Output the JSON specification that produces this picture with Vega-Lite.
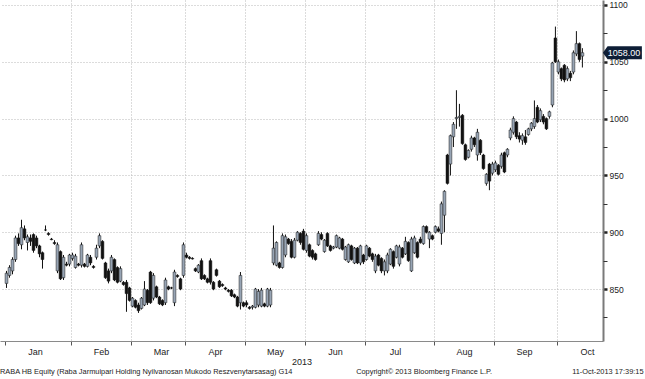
{
"$schema": "https://vega.github.io/schema/vega-lite/v6.json",
"width": 603, "height": 341,
"autosize": {"type": "none"},
"padding": {"left": 0, "top": 0, "right": 42, "bottom": 38},
"background": "white",
"config": {"view": {"stroke": null}, "font": "Liberation Sans"},
"title": {"text": "RABA HB Equity (Raba Jarmuipari Holding Nyilvanosan Mukodo Reszvenytarsasag) G14\u00a0\u00a0\u00a0\u00a0\u00a0\u00a0\u00a0\u00a0\u00a0\u00a0\u00a0\u00a0\u00a0\u00a0\u00a0\u00a0\u00a0\u00a0\u00a0\u00a0\u00a0\u00a0\u00a0\u00a0\u00a0\u00a0\u00a0\u00a0\u00a0\u00a0\u00a0Copyright© 2013 Bloomberg Finance L.P.\u00a0\u00a0\u00a0\u00a0\u00a0\u00a0\u00a0\u00a0\u00a0\u00a0\u00a0\u00a0\u00a0\u00a0\u00a0\u00a0\u00a0\u00a0\u00a0\u00a0\u00a0\u00a0\u00a0\u00a0\u00a0\u00a0\u00a0\u00a0\u00a0\u00a0\u00a0\u00a0\u00a0\u00a0\u00a0\u00a0\u00a0\u00a0\u00a011-Oct-2013 17:39:15", "orient": "bottom", "anchor": "start", "frame": "group", "font": "Liberation Sans", "fontSize": 7.4, "fontWeight": "normal", "color": "#222222", "offset": 2},
"resolve": {"scale": {"y": "shared"}, "axis": {"y": "independent"}},
"data": {"values": [
{"d":0,"o":855,"h":866,"l":851,"c":864},{"d":1,"o":862,"h":871,"l":860,"c":869},{"d":2,"o":866,"h":878,"l":863,"c":876},{"d":3,"o":876,"h":897,"l":874,"c":895},{"d":4,"o":895,"h":899,"l":888,"c":890},{"d":5,"o":889,"h":911,"l":885,"c":904},{"d":6,"o":903,"h":906,"l":893,"c":895},{"d":7,"o":891,"h":898,"l":884,"c":896},{"d":8,"o":895,"h":898,"l":888,"c":892},{"d":9,"o":898,"h":899,"l":882,"c":884},{"d":10,"o":895,"h":897,"l":886,"c":888},{"d":11,"o":888,"h":889,"l":878,"c":881},{"d":12,"o":882,"h":883,"l":868,"c":876},{"d":13,"o":902,"h":906,"l":901,"c":902},{"d":14,"o":899,"h":900,"l":897,"c":898},{"d":15,"o":894,"h":895,"l":893,"c":893.5},{"d":16,"o":891,"h":893,"l":889,"c":890},{"d":17,"o":866,"h":891,"l":864,"c":889},{"d":18,"o":883,"h":884,"l":858,"c":859},{"d":19,"o":860,"h":880,"l":858,"c":878},{"d":20,"o":872,"h":874,"l":870,"c":871},{"d":21,"o":872,"h":881,"l":870,"c":880},
{"d":22,"o":877,"h":882,"l":875,"c":880},{"d":23,"o":869,"h":881,"l":868,"c":879},{"d":24,"o":872,"h":873,"l":870,"c":871},{"d":25,"o":871,"h":891,"l":869,"c":889},{"d":26,"o":872,"h":873,"l":869,"c":870},{"d":27,"o":870,"h":881,"l":869,"c":880},{"d":28,"o":878,"h":880,"l":871,"c":873},{"d":29,"o":870,"h":871,"l":868,"c":869},{"d":30,"o":878,"h":889,"l":876,"c":886},{"d":31,"o":888,"h":899,"l":886,"c":897},{"d":32,"o":892,"h":893,"l":876,"c":877},{"d":33,"o":873,"h":874,"l":859,"c":860},{"d":34,"o":866,"h":868,"l":855,"c":857},{"d":35,"o":866,"h":880,"l":864,"c":878},{"d":36,"o":876,"h":877,"l":857,"c":858},{"d":37,"o":869,"h":870,"l":855,"c":856},{"d":38,"o":857,"h":870,"l":856,"c":868},{"d":39,"o":856,"h":857,"l":853,"c":854},{"d":40,"o":856,"h":858,"l":830,"c":846},{"d":41,"o":851,"h":852,"l":839,"c":840},
{"d":42,"o":835,"h":843,"l":834,"c":842},{"d":43,"o":840,"h":841,"l":833,"c":834},{"d":44,"o":836,"h":838,"l":829,"c":831},{"d":45,"o":833,"h":843,"l":832,"c":842},{"d":46,"o":836,"h":857,"l":835,"c":850},{"d":47,"o":849,"h":850,"l":836,"c":838},{"d":48,"o":865,"h":866,"l":837,"c":838},{"d":49,"o":842,"h":864,"l":840,"c":862},{"d":50,"o":852,"h":853,"l":842,"c":843},{"d":51,"o":843,"h":844,"l":836,"c":837},{"d":52,"o":840,"h":841,"l":835,"c":836},{"d":53,"o":838,"h":860,"l":836,"c":858},{"d":54,"o":852,"h":853,"l":849,"c":850},{"d":55,"o":851,"h":852,"l":850,"c":851},{"d":56,"o":838,"h":867,"l":835,"c":865},{"d":57,"o":862,"h":863,"l":860,"c":861},{"d":58,"o":859,"h":860,"l":849,"c":850},{"d":59,"o":862,"h":891,"l":860,"c":889},
{"d":60,"o":880,"h":882,"l":877,"c":878},{"d":61,"o":878,"h":879,"l":876,"c":877},{"d":62,"o":877,"h":878,"l":876,"c":876.5},{"d":63,"o":868,"h":869,"l":865,"c":866},{"d":64,"o":865,"h":872,"l":864,"c":871},{"d":65,"o":875,"h":877,"l":858,"c":859},{"d":66,"o":862,"h":863,"l":858,"c":859},{"d":67,"o":859,"h":860,"l":855,"c":856},{"d":68,"o":875,"h":877,"l":854,"c":856},{"d":69,"o":856,"h":857,"l":849,"c":850},{"d":70,"o":867,"h":868,"l":861,"c":862},{"d":71,"o":857,"h":858,"l":851,"c":852},{"d":72,"o":854,"h":855,"l":852,"c":853},{"d":73,"o":851,"h":852,"l":849,"c":850},{"d":74,"o":849,"h":850,"l":847,"c":848},{"d":75,"o":849,"h":850,"l":843,"c":844},{"d":76,"o":845,"h":846,"l":842,"c":843},{"d":77,"o":843,"h":844,"l":834,"c":835},{"d":78,"o":838,"h":865,"l":832,"c":862},{"d":79,"o":838,"h":839,"l":834,"c":835},
{"d":80,"o":838,"h":840,"l":834,"c":836},{"d":81,"o":834,"h":835,"l":832,"c":833},{"d":82,"o":834,"h":836,"l":832,"c":835},{"d":83,"o":834,"h":851,"l":833,"c":850},{"d":84,"o":836,"h":850,"l":834,"c":848},{"d":85,"o":835,"h":851,"l":834,"c":849},{"d":86,"o":837,"h":838,"l":834,"c":835},{"d":87,"o":835,"h":851,"l":834,"c":850},{"d":88,"o":836,"h":851,"l":834,"c":849},{"d":89,"o":873,"h":906,"l":871,"c":886},{"d":90,"o":871,"h":892,"l":870,"c":891},{"d":91,"o":873,"h":874,"l":868,"c":869},{"d":92,"o":869,"h":899,"l":868,"c":897},{"d":93,"o":880,"h":898,"l":878,"c":896},{"d":94,"o":894,"h":895,"l":889,"c":890},{"d":95,"o":892,"h":894,"l":877,"c":878},{"d":96,"o":878,"h":895,"l":877,"c":893},{"d":97,"o":893,"h":901,"l":892,"c":900},{"d":98,"o":899,"h":900,"l":889,"c":891},{"d":99,"o":901,"h":903,"l":884,"c":885},
{"d":100,"o":884,"h":899,"l":882,"c":897},{"d":101,"o":889,"h":890,"l":878,"c":879},{"d":102,"o":884,"h":885,"l":876,"c":878},{"d":103,"o":881,"h":882,"l":875,"c":876},{"d":104,"o":889,"h":901,"l":888,"c":899},{"d":105,"o":898,"h":900,"l":893,"c":894},{"d":106,"o":883,"h":894,"l":882,"c":893},{"d":107,"o":899,"h":900,"l":887,"c":888},{"d":108,"o":888,"h":889,"l":883,"c":884},{"d":109,"o":886,"h":888,"l":885,"c":887},{"d":110,"o":887,"h":898,"l":886,"c":897},{"d":111,"o":886,"h":896,"l":885,"c":895},{"d":112,"o":894,"h":895,"l":884,"c":885},{"d":113,"o":876,"h":888,"l":875,"c":887},{"d":114,"o":874,"h":890,"l":873,"c":889},{"d":115,"o":888,"h":889,"l":875,"c":876},{"d":116,"o":873,"h":887,"l":872,"c":886},{"d":117,"o":886,"h":887,"l":872,"c":873},{"d":118,"o":873,"h":889,"l":871,"c":888},{"d":119,"o":880,"h":881,"l":872,"c":874},
{"d":120,"o":876,"h":889,"l":875,"c":888},{"d":121,"o":886,"h":887,"l":878,"c":879},{"d":122,"o":881,"h":882,"l":874,"c":876},{"d":123,"o":866,"h":881,"l":864,"c":879},{"d":124,"o":880,"h":881,"l":870,"c":871},{"d":125,"o":877,"h":878,"l":864,"c":866},{"d":126,"o":866,"h":876,"l":862,"c":874},{"d":127,"o":866,"h":882,"l":864,"c":880},{"d":128,"o":872,"h":886,"l":871,"c":885},{"d":129,"o":883,"h":884,"l":868,"c":870},{"d":130,"o":878,"h":889,"l":877,"c":888},{"d":131,"o":872,"h":889,"l":870,"c":887},{"d":132,"o":886,"h":887,"l":877,"c":878},{"d":133,"o":881,"h":896,"l":880,"c":892},{"d":134,"o":891,"h":892,"l":874,"c":875},{"d":135,"o":866,"h":896,"l":865,"c":894},{"d":136,"o":882,"h":897,"l":881,"c":895},{"d":137,"o":891,"h":892,"l":877,"c":878},{"d":138,"o":894,"h":896,"l":890,"c":891},{"d":139,"o":890,"h":906,"l":889,"c":905},{"d":140,"o":905,"h":906,"l":899,"c":900},{"d":141,"o":894,"h":901,"l":886,"c":900},{"d":142,"o":897,"h":898,"l":893,"c":894},
{"d":143,"o":900,"h":906,"l":899,"c":905},{"d":144,"o":903,"h":905,"l":900,"c":901},{"d":145,"o":899,"h":927,"l":889,"c":925},{"d":146,"o":915,"h":937,"l":900,"c":936},{"d":147,"o":968,"h":969,"l":942,"c":943},{"d":148,"o":960,"h":986,"l":950,"c":985},{"d":149,"o":984,"h":997,"l":975,"c":995},{"d":150,"o":1000,"h":1025,"l":991,"c":1001},{"d":151,"o":1001,"h":1013,"l":993,"c":1002},{"d":152,"o":1003,"h":1004,"l":977,"c":978},{"d":153,"o":977,"h":978,"l":963,"c":964},{"d":154,"o":966,"h":973,"l":965,"c":972},{"d":155,"o":973,"h":985,"l":971,"c":983},{"d":156,"o":983,"h":984,"l":975,"c":977},{"d":157,"o":968,"h":991,"l":963,"c":988},{"d":158,"o":981,"h":982,"l":968,"c":970},{"d":159,"o":968,"h":969,"l":955,"c":956},{"d":160,"o":943,"h":952,"l":941,"c":951},{"d":161,"o":960,"h":961,"l":937,"c":945},{"d":162,"o":952,"h":962,"l":950,"c":960},
{"d":163,"o":955,"h":963,"l":953,"c":961},{"d":164,"o":959,"h":960,"l":950,"c":951},{"d":165,"o":958,"h":970,"l":956,"c":968},{"d":166,"o":970,"h":971,"l":952,"c":953},{"d":167,"o":968,"h":974,"l":966,"c":973},{"d":168,"o":983,"h":992,"l":981,"c":990},{"d":169,"o":988,"h":1002,"l":986,"c":1000},{"d":170,"o":997,"h":998,"l":982,"c":984},{"d":171,"o":985,"h":988,"l":979,"c":982},{"d":172,"o":981,"h":987,"l":977,"c":985},{"d":173,"o":984,"h":990,"l":977,"c":979},{"d":174,"o":986,"h":992,"l":985,"c":991},{"d":175,"o":991,"h":997,"l":989,"c":996},{"d":176,"o":993,"h":1016,"l":991,"c":1000},{"d":177,"o":1010,"h":1012,"l":996,"c":997},{"d":178,"o":999,"h":1009,"l":997,"c":1007},{"d":179,"o":1002,"h":1004,"l":995,"c":997},{"d":180,"o":1000,"h":1001,"l":990,"c":991},{"d":181,"o":1002,"h":1007,"l":1000,"c":1006},{"d":182,"o":1012,"h":1050,"l":1010,"c":1049},{"d":183,"o":1071,"h":1081,"l":1049,"c":1050},
{"d":184,"o":1041,"h":1052,"l":1039,"c":1050},{"d":185,"o":1044,"h":1045,"l":1033,"c":1035},{"d":186,"o":1047,"h":1048,"l":1032,"c":1034},{"d":187,"o":1035,"h":1046,"l":1033,"c":1044},{"d":188,"o":1040,"h":1042,"l":1033,"c":1036},{"d":189,"o":1041,"h":1060,"l":1039,"c":1058},{"d":190,"o":1057,"h":1077,"l":1055,"c":1066},{"d":191,"o":1066,"h":1067,"l":1050,"c":1052},{"d":192,"o":1055,"h":1062,"l":1045,"c":1058}
]},
"encoding": {
  "x": {"field": "d", "type": "quantitative", "title": "2013",
    "scale": {"domain": [-0.5, 197.2], "nice": false, "zero": false},
    "axis": {"values": [-0.5, 21.5, 41.5, 59.5, 79.5, 99.5, 119.5, 142.5, 162.5, 183.5],
      "labelExpr": "datum.value < 0 ? 'Jan' : datum.value < 30 ? 'Feb' : datum.value < 50 ? 'Mar' : datum.value < 70 ? 'Apr' : datum.value < 90 ? 'May' : datum.value < 110 ? 'Jun' : datum.value < 130 ? 'Jul' : datum.value < 150 ? 'Aug' : datum.value < 170 ? 'Sep' : 'Oct'",
      "labelOffset": 30, "labelFlush": false, "labelOverlap": false, "labelBound": false,
      "labelFontSize": 9, "labelColor": "#222222", "labelPadding": 2,
      "tickSize": 4, "tickColor": "#555555", "tickWidth": 1,
      "domainColor": "#8a8a8a", "domainWidth": 1,
      "grid": true, "gridColor": "#b8b8b8", "gridDash": [1, 2], "gridWidth": 1,
      "gridOpacity": {"condition": {"test": "datum.value < 0", "value": 0}, "value": 1},
      "titleFontSize": 9, "titleFontWeight": "normal", "titleColor": "#222222", "titlePadding": 1}}
},
"layer": [
  {"mark": {"type": "rule", "color": "#111111", "strokeWidth": 1},
   "encoding": {
     "y": {"field": "l", "type": "quantitative", "title": null,
       "scale": {"domain": [804.3, 1104.4], "nice": false, "zero": false},
       "axis": {"orient": "right", "values": [850, 900, 950, 1000, 1050, 1100],
         "format": "d", "labelOverlap": false, "labelFlush": false, "labelBound": false,
         "labelFontSize": 8.5, "labelColor": "#222222", "labelPadding": 2,
         "tickColor": "#222222", "tickSize": 4, "tickWidth": 2.5,
         "domainColor": "#7a7a7a", "domainWidth": 2,
         "grid": true, "gridColor": "#b8b8b8", "gridDash": [1, 2], "gridWidth": 1}},
     "y2": {"field": "h"}}},
  {"mark": {"type": "bar", "width": 2.8, "stroke": "#1b1b1b", "strokeWidth": 0.5},
   "encoding": {
     "y": {"field": "o", "type": "quantitative", "title": null,
       "axis": {"orient": "right", "values": [825, 875, 925, 975, 1025, 1075],
         "labels": false, "domain": false, "grid": false, "title": null,
         "tickColor": "#333333", "tickSize": 4, "tickWidth": 1}},
     "y2": {"field": "c"},
     "fill": {"condition": {"test": "datum.c >= datum.o", "value": "#97a4b4"}, "value": "#111111"}}},
  {"transform": [{"filter": "datum.d == 192"}],
   "mark": {"type": "point", "shape": "M-1,0L-0.76,-0.333L1,-0.333L1,0.333L-0.76,0.333Z", "size": 1521, "filled": true, "fill": "#0e1e36", "opacity": 1, "strokeWidth": 0, "xOffset": 40},
   "encoding": {"y": {"field": "c", "type": "quantitative", "title": null, "axis": null}}},
  {"transform": [{"filter": "datum.d == 192"}],
   "mark": {"type": "text", "dx": 41.5, "color": "white", "fontSize": 9, "align": "center", "baseline": "middle"},
   "encoding": {"y": {"field": "c", "type": "quantitative", "title": null, "axis": null}, "text": {"field": "c", "type": "quantitative", "format": ".2f"}}}
]
}
